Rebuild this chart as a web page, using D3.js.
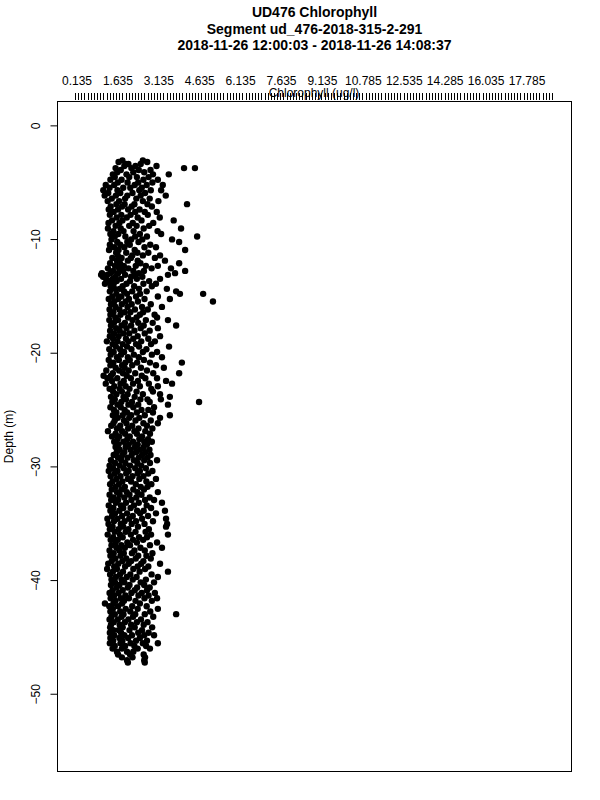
<!DOCTYPE html>
<html><head><meta charset="utf-8">
<script src="https://cdn.jsdelivr.net/npm/d3@7"></script>
<style>body{margin:0;background:#fff}svg{display:block}</style>
</head><body>
<svg id="chart" width="600" height="800"></svg>
<script>
const titleLines = ["UD476 Chlorophyll", "Segment ud_476-2018-315-2-291", "2018-11-26 12:00:03 - 2018-11-26 14:08:37"];
const xTickValues = [0.135, 1.635, 3.135, 4.635, 6.135, 7.635, 9.135, 10.785, 12.535, 14.285, 16.035, 17.785];
const xTickLabels = ["0.135", "1.635", "3.135", "4.635", "6.135", "7.635", "9.135", "10.785", "12.535", "14.285", "16.035", "17.785"];
const yTickValues = [0, -10, -20, -30, -40, -50];
const xTitle = "Chlorophyll (ug/l)";
const yTitle = "Depth (m)";

// rows: [depth (m), chlorophyll (ug/l) values read at that depth ...]
const samples3to15 = [
[-3.08,1.80,2.55],[-3.22,1.66,2.71],[-3.40,2.02,2.47,1.93],[-3.58,1.87,2.28,3.05],[-3.76,1.55,2.13,4.06,4.46],
[-3.93,1.74,2.40,2.83],[-4.12,1.61,2.20,2.60],[-4.31,1.45,1.95,2.92,3.50],[-4.55,1.52,2.05,2.33,2.76],
[-4.78,1.36,1.77,2.57,3.10],[-5.02,1.63,1.99,2.38,2.90],[-5.24,1.19,1.50,2.25,2.69,3.28],
[-5.49,1.33,1.83,2.09,2.51],[-5.71,1.10,1.62,2.42,2.84,3.22],[-5.95,1.28,1.72,2.17,2.63],
[-6.18,1.15,1.56,1.98,2.47,3.39],[-6.44,1.41,1.90,2.31,2.80],[-6.66,1.26,1.68,2.55,3.12],
[-6.93,1.58,1.88,2.24,2.72,4.17],[-7.14,1.37,1.79,2.14,2.88],[-7.40,1.30,1.64,2.01,2.43],
[-7.61,1.48,2.27,2.62,3.06],[-7.87,1.34,1.76,2.10,2.73],[-8.10,1.59,1.96,2.36,3.17],
[-8.36,1.42,1.80,2.50,3.68],[-8.58,1.29,1.69,2.18,2.93],[-8.84,1.55,2.05,2.32,2.78],
[-9.07,1.27,1.74,2.58,3.95],[-9.30,1.47,1.84,2.21,3.09],[-9.55,1.36,1.65,2.44,3.22],
[-9.78,1.52,1.91,2.27,2.70,4.54],[-10.03,1.40,2.12,2.53,3.62],[-10.26,1.61,1.98,2.39,3.88],
[-10.50,1.34,1.72,2.07,2.82],[-10.72,1.50,1.87,2.61,3.03],[-10.97,1.31,1.66,2.25,4.10],
[-11.20,1.57,1.94,2.35,2.75],[-11.44,1.63,2.16,2.55,3.18],[-11.66,1.43,1.77,2.11,2.99],
[-11.90,1.60,2.00,2.36,3.36],[-12.13,1.35,1.71,2.46,3.88],[-12.36,1.53,1.85,2.29,2.66,3.10],
[-12.58,1.27,1.68,2.02,2.87,3.58],[-12.80,1.46,1.83,2.20,2.59,4.10],[-13.00,1.05,1.36,1.64,2.40,3.73],
[-13.15,1.02,1.24,1.90,2.27,3.47],[-13.32,1.09,1.14,1.55,2.12,2.53],[-13.50,1.20,1.44,1.75,2.33,3.18],
[-13.70,1.32,1.59,2.08,2.78],[-13.93,1.16,1.48,1.95,2.57,3.03],[-14.15,1.37,1.81,2.23,2.88],
[-14.38,1.52,1.70,2.41,3.43],[-14.60,1.34,1.86,2.16,2.69,3.77],[-14.82,1.58,1.97,2.45,3.91,4.76]
];
const samples15to30 = [
[-15.05,1.43,1.76,2.30,3.10],[-15.28,1.30,1.65,2.04,2.61,3.54],[-15.50,1.50,1.92,2.37,5.12],
[-15.73,1.38,1.78,2.14,2.84],[-15.97,1.55,1.99,2.52,3.25],[-16.20,1.33,1.69,2.26,2.73],
[-16.44,1.47,1.88,2.09,2.56],[-16.66,1.36,1.73,2.44,2.98],[-16.90,1.54,2.01,2.32,3.07],
[-17.13,1.32,1.64,2.17,2.66,3.47],[-17.37,1.49,1.89,2.38,2.91],[-17.60,1.38,1.77,2.12,2.58,3.77],
[-17.84,1.57,1.95,2.47,3.10],[-18.06,1.35,1.70,2.24,2.80],[-18.30,1.50,1.84,2.05,2.62],
[-18.54,1.34,1.66,2.36,3.18],[-18.77,1.46,1.93,2.20,2.75],[-19.00,1.23,1.62,2.02,2.49,2.99],
[-19.24,1.44,1.81,2.30,2.85],[-19.46,1.56,1.97,2.41,3.51],[-19.70,1.32,1.72,2.13,2.68],
[-19.93,1.48,1.86,2.55,3.07],[-20.17,1.37,1.75,2.22,2.88],[-20.40,1.60,2.00,2.40,3.25],
[-20.63,1.30,1.67,2.07,2.59],[-20.87,1.47,1.91,2.34,2.81,3.98],[-21.10,1.36,1.79,2.16,3.03],
[-21.32,1.55,1.88,2.48,3.32],[-21.56,1.21,1.68,2.03,2.70],[-21.80,1.45,1.82,2.27,2.93,3.88],
[-22.02,1.11,1.38,1.96,2.51],[-22.25,1.25,1.61,2.11,2.64,3.07],[-22.48,1.42,1.85,2.37,3.40],
[-22.72,1.19,1.73,2.19,2.77,3.62],[-22.95,1.50,1.92,2.44,3.10],[-23.18,1.33,1.70,2.06,2.86],
[-23.42,1.46,1.78,2.32,2.92],[-23.65,1.58,1.99,2.55,3.18],[-23.88,1.38,1.84,2.25,3.54],
[-24.10,1.52,1.93,2.46,2.72,3.21],[-24.33,1.43,1.76,2.15,2.80,4.61],[-24.57,1.62,2.02,2.38,3.47],
[-24.80,1.36,1.74,2.20,2.96],[-25.03,1.49,1.88,2.50,2.75],[-25.26,1.58,1.97,2.33,2.92],
[-25.50,1.45,1.81,2.12,2.62,3.54],[-25.73,1.63,2.05,2.42,3.18],[-25.96,1.52,1.86,2.28,2.84],
[-26.20,1.47,1.95,2.57,3.10],[-26.43,1.39,1.72,2.16,2.70],[-26.66,1.60,2.01,2.39,2.90],
[-26.90,1.27,1.79,2.24,2.64],[-27.13,1.55,1.90,2.33,2.81],[-27.36,1.42,1.68,2.07,2.52],
[-27.60,1.62,1.98,2.42,2.74],[-27.83,1.50,1.84,2.19,2.60,2.88],[-28.06,1.66,2.03,2.36,2.70],
[-28.30,1.55,1.92,2.26,2.58],[-28.53,1.70,2.10,2.45,2.79],[-28.76,1.59,1.87,2.30,2.64],
[-29.00,1.48,1.80,2.14,2.52,2.83],[-29.23,1.64,1.99,2.40,2.72],[-29.46,1.38,1.76,2.22,2.60,3.07],
[-29.70,1.53,1.91,2.35,2.81],[-29.93,1.33,1.70,2.08,2.49]
];
const samples30to48 = [
[-30.16,1.46,1.85,2.27,2.66],[-30.40,1.30,1.62,2.03,2.44,2.90],[-30.63,1.52,1.94,2.36,2.75],
[-30.86,1.37,1.73,2.17,2.57],[-31.10,1.58,2.00,2.42,3.03],[-31.33,1.44,1.80,2.12,2.68],
[-31.56,1.35,1.67,2.29,2.86],[-31.80,1.55,1.89,2.47,2.72],[-32.03,1.41,1.77,2.20,2.59],
[-32.26,1.60,1.96,2.35,3.10],[-32.50,1.33,1.70,2.06,2.50],[-32.73,1.48,1.87,2.31,2.80],
[-32.96,1.39,1.64,2.13,2.63,2.96],[-33.20,1.56,1.93,2.40,3.25],[-33.43,1.30,1.75,2.22,2.69],
[-33.66,1.47,1.83,2.10,2.85],[-33.90,1.36,1.69,2.34,2.58,3.36],[-34.13,1.53,1.97,2.45,3.03],
[-34.36,1.42,1.79,2.18,2.74],[-34.60,1.25,1.62,2.05,2.52,3.40],[-34.83,1.49,1.88,2.30,2.92],
[-35.06,1.29,1.74,2.14,2.61,3.44],[-35.30,1.44,1.83,2.37,3.40],[-35.53,1.34,1.66,2.02,2.77],
[-35.76,1.52,1.92,2.28,2.65],[-36.00,1.26,1.71,2.11,2.85,3.47],[-36.23,1.46,1.81,2.41,2.70],
[-36.46,1.37,1.63,2.19,2.56],[-36.70,1.55,1.98,2.33,3.07],[-36.93,1.40,1.76,2.08,2.81],
[-37.16,1.58,1.89,2.46,3.25],[-37.40,1.33,1.69,2.24,2.62],[-37.63,1.48,1.85,2.15,2.90],
[-37.86,1.36,1.73,2.38,2.68],[-38.10,1.54,1.94,2.29,2.84],[-38.33,1.41,1.80,2.12,2.57],
[-38.56,1.28,1.65,2.03,2.49,3.18],[-38.80,1.50,1.90,2.36,2.75],[-39.03,1.24,1.60,2.20,2.63],
[-39.26,1.45,1.82,2.43,3.47],[-39.50,1.35,1.71,2.09,2.87],[-39.73,1.56,1.96,2.32,3.10],
[-39.96,1.40,1.77,2.18,2.66],[-40.20,1.53,1.87,2.47,2.96],[-40.43,1.38,1.69,2.06,2.60],
[-40.66,1.59,2.00,2.34,2.80],[-40.90,1.44,1.81,2.25,2.70],[-41.13,1.33,1.66,2.13,2.51,2.99],
[-41.36,1.50,1.91,2.39,2.76],[-41.60,1.37,1.74,2.04,2.61,3.07],[-41.83,1.55,1.86,2.28,2.88],
[-42.06,1.16,1.47,1.79,2.44],[-42.30,1.32,1.64,2.16,2.69],[-42.53,1.45,1.92,2.36,3.10],
[-42.76,1.36,1.72,2.09,2.82],[-43.00,1.52,1.84,2.27,2.62,3.77],[-43.23,1.40,1.77,2.19,2.93],
[-43.46,1.33,1.63,2.02,2.48],[-43.70,1.48,1.89,2.33,2.72],[-43.93,1.38,1.70,2.12,2.58],
[-44.16,1.35,1.81,2.25,2.89],[-44.40,1.47,1.66,2.06,2.52],[-44.63,1.34,1.75,2.38,2.76],
[-44.86,1.50,1.87,2.15,2.60,2.96],[-45.10,1.36,1.69,2.01,2.44],[-45.33,1.46,1.80,2.30,2.70],
[-45.56,1.34,1.73,2.10,2.55,3.10],[-45.80,1.52,1.90,2.24,2.67],[-46.03,1.44,1.78,2.36,2.81],
[-46.30,1.60,1.97,2.20],[-46.55,1.64,2.08,2.58],[-46.80,1.78,2.17,2.63],[-47.05,1.97,2.60],[-47.25,2.00,2.62]
];

const points = [samples3to15, samples15to30, samples30to48]
  .flat()
  .flatMap(row => row.slice(1).map(c => ({depth: row[0], chl: c})));

const W = 600, H = 800;
const frame = {left: 57.5, right: 571.5, top: 101.5, bottom: 771.5};
const labelFirst = 77, labelLast = 527;

const svg = d3.select("#chart");
svg.append("rect").attr("width", W).attr("height", H).attr("fill", "#fff");

const x = d3.scaleLinear()
  .domain(xTickValues)
  .range(xTickValues.map((d, i) => labelFirst + i * (labelLast - labelFirst) / (xTickValues.length - 1)));
const y = d3.scaleLinear().domain([2.1, -56.84]).range([frame.top, frame.bottom]);

const font = "Liberation Sans, Arial, Helvetica, sans-serif";

// titles
svg.append("g").selectAll("text").data(titleLines).join("text")
  .attr("x", (frame.left + frame.right) / 2)
  .attr("y", (d, i) => 17 + i * 16.5)
  .attr("text-anchor", "middle")
  .attr("font-family", font).attr("font-weight", "bold").attr("font-size", 14)
  .text(d => d);

// top axis: dense minor ticks
const minorCount = 152;
const minorPos = d3.range(minorCount).map(i => 75 + i * (552 - 75) / (minorCount - 1));
svg.append("g").attr("shape-rendering", "crispEdges").selectAll("line").data(minorPos).join("line")
  .attr("x1", d => Math.round(d) + 0.5).attr("x2", d => Math.round(d) + 0.5)
  .attr("y1", 93).attr("y2", 99.5)
  .attr("stroke", "#000").attr("stroke-width", 1);

svg.append("g").selectAll("text").data(xTickValues).join("text")
  .attr("x", d => x(d)).attr("y", 85)
  .attr("text-anchor", "middle")
  .attr("font-family", font).attr("font-size", 12)
  .text((d, i) => xTickLabels[i]);

svg.append("text")
  .attr("x", 314).attr("y", 97)
  .attr("text-anchor", "middle")
  .attr("font-family", font).attr("font-size", 12)
  .text(xTitle);

// left axis
const yAxis = d3.axisLeft(y).tickValues(yTickValues).tickSize(7).tickFormat(d3.format("d"));
const gy = svg.append("g").attr("transform", `translate(${frame.left},0)`).call(yAxis);
gy.select(".domain").remove();
gy.selectAll(".tick line").attr("stroke", "#000");
gy.selectAll(".tick text")
  .attr("font-family", font).attr("font-size", 12).attr("fill", "#000")
  .attr("text-anchor", "middle")
  .attr("x", 0).attr("dy", null).attr("y", 0)
  .attr("transform", "translate(-21.5,0) rotate(-90) translate(0,4)");

svg.append("text")
  .attr("transform", `translate(13,${(frame.top + frame.bottom) / 2}) rotate(-90)`)
  .attr("text-anchor", "middle")
  .attr("font-family", font).attr("font-size", 12)
  .text(yTitle);

// points
svg.append("g").selectAll("circle").data(points).join("circle")
  .attr("cx", d => x(d.chl)).attr("cy", d => y(d.depth))
  .attr("r", 3.2).attr("fill", "#000");

// frame
svg.append("rect")
  .attr("x", frame.left).attr("y", frame.top)
  .attr("width", frame.right - frame.left).attr("height", frame.bottom - frame.top)
  .attr("fill", "none").attr("stroke", "#000").attr("stroke-width", 1);
</script>
</body></html>
